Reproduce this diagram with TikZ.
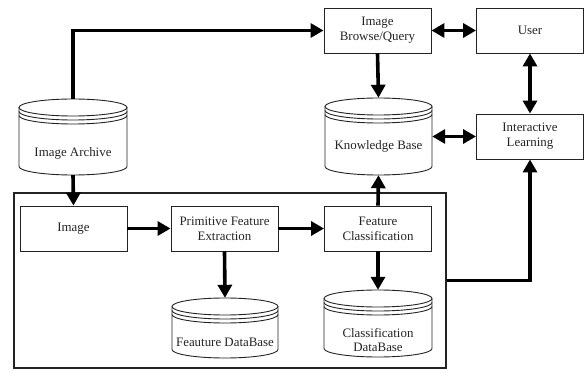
\documentclass[tikz,border=0pt]{standalone}
\usepackage{fontspec}
\setmainfont{Liberation Serif}
\usepackage{tikz}
\usetikzlibrary{arrows.meta}
\definecolor{inkgray}{RGB}{35,35,35}

% disk store: name, cx, top, bottom, half width, text y, text
\newcommand{\dbdisk}[7]{%
  \draw[dbline] ({#2-#5},{#3+8.5}) -- ({#2-#5},{#4-8.5})
    arc[start angle=180, end angle=0, x radius=#5, y radius=8.5]
    -- ({#2+#5},{#3+8.5});
  \draw[dbline] (#2,{#3+8.5}) ellipse[x radius=#5, y radius=8.5];
  \draw[dbline] ({#2-#5},{#3+12.5}) arc[start angle=180, end angle=0, x radius=#5, y radius=8.5];
  \draw[dbline] ({#2-#5},{#3+16.5}) arc[start angle=180, end angle=0, x radius=#5, y radius=8.5];
  \node[inner sep=0pt, minimum width={2*#5}, minimum height={#4-#3}] (#1) at (#2,{(#3+#4)/2}) {};
  \node[dbtext] (#1-text) at (#2,#6) {#7};
}

\begin{document}
\begin{tikzpicture}[x=1pt, y=-1pt,
    every node/.style={font=\fontsize{12.9}{14.8}\selectfont, text=inkgray},
    box/.style={draw=inkgray, line width=0.9pt, minimum width=107pt, minimum height=45pt, align=center, inner sep=2pt},
    dbline/.style={draw=inkgray, line width=0.9pt},
    dbtext/.style={align=center, inner sep=1pt},
    frame/.style={draw=inkgray, line width=1.2pt, minimum width=432pt, minimum height=175pt},
    flow/.style={draw=black, line width=3.6pt, -{Triangle[length=13pt,width=14pt]}},
    both/.style={draw=black, line width=3.6pt, {Triangle[length=13pt,width=14pt]}-{Triangle[length=13pt,width=14pt]}}]
    \useasboundingbox (0,0) rectangle (586,371);

    % processing frame
    \node[frame] (frame) at (230,280.5) {};

    % boxes
    \node[box] (browse) at (377.5,30.5) {Image\\Browse/Query};
    \node[box] (user) at (530,30.5) {User};
    \node[box] (il) at (530,136.5) {Interactive\\Learning};
    \node[box] (img) at (73.5,228.5) {Image};
    \node[box] (pfe) at (224.5,228.5) {Primitive Feature\\Extraction};
    \node[box] (fc) at (378,228.5) {Feature\\Classification};

    % disk stores
    \dbdisk{ia}{73}{99}{175}{54}{153}{Image Archive}
    \dbdisk{kb}{378.5}{98}{175}{53.5}{146}{Knowledge Base}
    \dbdisk{fdb}{225}{298}{358}{53}{342}{Feauture DataBase}
    \dbdisk{cdb}{378}{290}{357}{54}{340}{Classification\\DataBase}

    % connectors
    \draw[flow] (ia.north) |- (browse.west);
    \draw[both] (browse.east) -- (user.west);
    \draw[flow] (browse.south) -- (kb.north);
    \draw[both] (user.south) -- (il.north);
    \draw[both] (kb.east) -- (il.west);
    \draw[flow] (ia.south) -- (img.north);
    \draw[flow] (img.east) -- (pfe.west);
    \draw[flow] (pfe.east) -- (fc.west);
    \draw[flow] (pfe.south) -- (fdb.north);
    \draw[flow] (fc.south) -- (cdb.north);
    \draw[flow] (fc.north) -- (kb.south);
    \draw[flow] (frame.east) -| (il.south);
\end{tikzpicture}
\end{document}
